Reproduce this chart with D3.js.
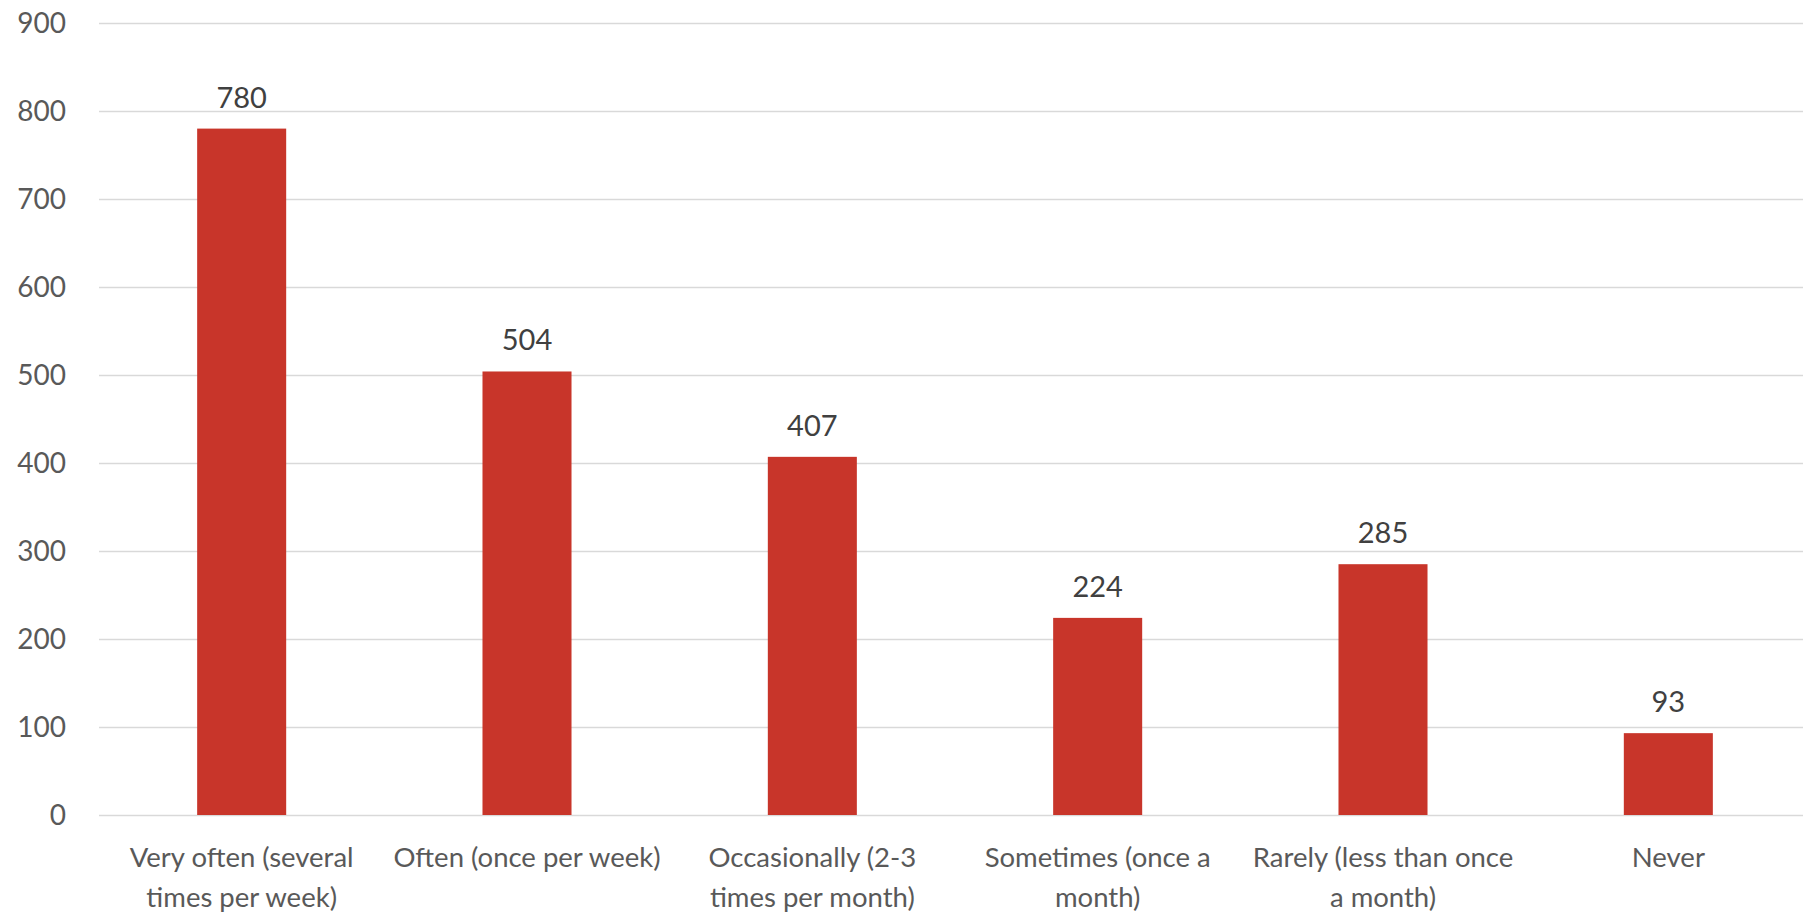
<!DOCTYPE html>
<html>
<head>
<meta charset="utf-8">
<script src="https://cdn.jsdelivr.net/npm/d3@7"></script>
<style>
  html, body { margin: 0; padding: 0; background: #fff; }
  svg { display: block; }
  text { font-family: "Lato", "Open Sans", sans-serif; }
</style>
</head>
<body>
<svg id="chart" width="1803" height="915"></svg>
<script>
const categories = [
  ["Very often (several", "times per week)"],
  ["Often (once per week)"],
  ["Occasionally (2-3", "times per month)"],
  ["Sometimes (once a", "month)"],
  ["Rarely (less than once", "a month)"],
  ["Never"]
];
const values = [780, 504, 407, 224, 285, 93];
const yTicks = [0, 100, 200, 300, 400, 500, 600, 700, 800, 900];

const svg = d3.select("#chart");
const plotLeft = 99, plotRight = 1811, plotTop = 23, plotBottom = 815;

const x = d3.scaleBand()
  .domain(d3.range(categories.length))
  .range([plotLeft, plotRight])
  .paddingInner(0)
  .paddingOuter(0);
const y = d3.scaleLinear().domain([0, 900]).range([plotBottom, plotTop]);
const barW = x.bandwidth() * 0.312;

// gridlines
svg.append("g")
  .selectAll("line")
  .data(yTicks)
  .join("line")
  .attr("x1", plotLeft).attr("x2", 1803)
  .attr("y1", d => Math.round(y(d)) + 0.5)
  .attr("y2", d => Math.round(y(d)) + 0.5)
  .attr("stroke", "#d9d9d9")
  .attr("stroke-width", 1.5);

// y axis labels
const yAxis = d3.axisLeft(y).tickValues(yTicks).tickSize(0).tickPadding(0);
const gy = svg.append("g").attr("transform", "translate(66,0)").call(yAxis);
gy.select(".domain").remove();
gy.selectAll("text")
  .attr("fill", "#595959")
  .style("font-size", "28px")
  .style("font-family", "Lato, 'Open Sans', sans-serif")
  .attr("dy", "0.35em");

// bars
svg.append("g")
  .selectAll("rect")
  .data(values)
  .join("rect")
  .attr("x", (d, i) => x(i) + x.bandwidth() / 2 - barW / 2)
  .attr("width", barW)
  .attr("y", d => y(d))
  .attr("height", d => y(0) - y(d))
  .attr("fill", "#c8352a");

// value labels
svg.append("g")
  .selectAll("text")
  .data(values)
  .join("text")
  .attr("x", (d, i) => x(i) + x.bandwidth() / 2)
  .attr("y", d => y(d) - 21)
  .attr("text-anchor", "middle")
  .attr("fill", "#404040")
  .style("font-size", "29px")
  .text(d => d);

// category labels
const cat = svg.append("g")
  .selectAll("text")
  .data(categories)
  .join("text")
  .attr("x", (d, i) => x(i) + x.bandwidth() / 2)
  .attr("y", 867)
  .attr("text-anchor", "middle")
  .attr("fill", "#595959")
  .style("font-size", "27.5px");
cat.selectAll("tspan")
  .data(d => d)
  .join("tspan")
  .attr("x", function() { return d3.select(this.parentNode).attr("x"); })
  .attr("dy", (d, j) => j === 0 ? 0 : 40)
  .text(d => d);
</script>
</body>
</html>
